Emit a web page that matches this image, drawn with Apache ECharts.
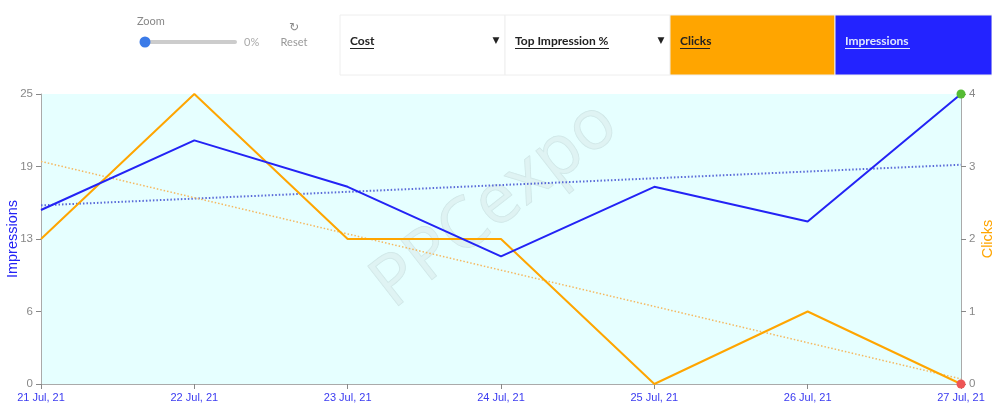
<!DOCTYPE html>
<html><head><meta charset="utf-8">
<script src="https://cdn.jsdelivr.net/npm/echarts@6/dist/echarts.min.js"></script>
<style>html,body{margin:0;padding:0;background:#fff}#c{width:992px;height:417px}</style>
</head><body><div id="c"></div>
<script>
const categories = ['21 Jul, 21','22 Jul, 21','23 Jul, 21','24 Jul, 21','25 Jul, 21','26 Jul, 21','27 Jul, 21'];
const impressions = [15, 21, 17, 11, 17, 14, 25];
const clicks = [2, 4, 2, 2, 0, 1, 0];
const impressionsTrend = [15.4, 18.9];   // trend line at first and last date
const clicksTrend = [3.07, 0.07];
const leftTicks = [0, 6, 13, 19, 25];
const rightTicks = [0, 1, 2, 3, 4];

const BLUE = '#2323f5', ORANGE = '#ffa500';
const chart = echarts.init(document.getElementById('c'), null, {renderer:'canvas'});
const last = categories.length - 1;

function endPoint(arr, color){
  return arr.map((v,i)=> i===last ? {value:v, symbol:'circle', symbolSize:9, itemStyle:{color:color}} : {value:v, symbol:'none'});
}

const boxes = [
  {x:340, w:165, label:'Cost', bg:'#fff', color:'#222', arrow:true},
  {x:505, w:165, label:'Top Impression %', bg:'#fff', color:'#222', arrow:true},
  {x:670, w:165, label:'Clicks', bg:'#ffa500', color:'#222', arrow:false},
  {x:835, w:157, label:'Impressions', bg:'#2323ff', color:'#e0e8ff', arrow:false}
];
const graphics = [];
boxes.forEach(b=>{
  graphics.push({type:'rect', shape:{x:b.x, y:15, width:b.w, height:60}, style:{fill:b.bg, stroke:'#eeeeee', lineWidth:1}, silent:true});
  graphics.push({type:'text', x:b.x+10, y:41, style:{text:b.label, fill:b.color, font:'bold 12px Lato', textVerticalAlign:'middle'}});
  if (b.arrow) graphics.push({type:'text', x:b.x+156, y:41, style:{text:'▼', fill:'#222', font:'9px DejaVu Sans', textAlign:'center', textVerticalAlign:'middle'}});
});
// underlines
const ul = [[350,374],[515,609],[680,710],[845,910]];
ul.forEach((u,i)=>graphics.push({type:'line', shape:{x1:u[0], y1:48.5, x2:u[1], y2:48.5}, style:{stroke:i===3?'#e0e8ff':'#222', lineWidth:1}}));
// zoom control
graphics.push({type:'text', x:137, y:21, style:{text:'Zoom', fill:'#888', font:'11px Lato', textVerticalAlign:'middle'}});
graphics.push({type:'rect', shape:{x:148, y:40, width:89, height:4, r:2}, style:{fill:'#cccccc'}});
graphics.push({type:'circle', shape:{cx:145, cy:42, r:5.5}, style:{fill:'#3b7be8'}});
graphics.push({type:'text', x:244, y:42, style:{text:'0%', fill:'#aaa', font:'11px Lato', textVerticalAlign:'middle'}});
graphics.push({type:'text', x:294, y:28, style:{text:'↻', fill:'#888', font:'12px DejaVu Sans', textAlign:'center', textVerticalAlign:'middle'}});
graphics.push({type:'text', x:294, y:42, style:{text:'Reset', fill:'#999', font:'11px Lato', textAlign:'center', textVerticalAlign:'middle'}});
// watermark
graphics.push({type:'text', x:495, y:205, rotation:Math.PI*38/180, z:0, style:{text:'PPCexpo', fill:'rgba(220,238,238,0.7)', stroke:'rgba(185,210,210,0.55)', lineWidth:1, font:'70px "Open Sans"', textAlign:'center', textVerticalAlign:'middle'}, silent:true});

chart.setOption({
  animation:false,
  grid:{left:41, right:31, top:94, bottom:33, show:true, backgroundColor:'#e6ffff', borderWidth:0, containLabel:false, outerBoundsMode:'none'},
  graphic: graphics,
  xAxis:{type:'category', data:categories, boundaryGap:false,
    axisLine:{lineStyle:{color:'#aaaaaa'}}, axisTick:{show:true, alignWithLabel:true, lineStyle:{color:'#888'}},
    axisLabel:{color:'#3a3af0', fontSize:11, fontFamily:'Liberation Sans', margin:8}},
  yAxis:[
    {type:'value', min:0, max:25, interval:6.25, position:'left',
      name:'Impressions', nameLocation:'middle', nameGap:21, nameMoveOverlap:false, nameTextStyle:{color:'#2323f5', fontSize:14.5, fontFamily:'Liberation Sans'},
      axisLine:{show:true, lineStyle:{color:'#aaaaaa'}}, axisTick:{show:true, lineStyle:{color:'#888'}}, splitLine:{show:false},
      axisLabel:{color:'#888', fontSize:11.5, fontFamily:'Liberation Sans', formatter:v=>String(leftTicks[Math.round(v/6.25)])}},
    {type:'value', min:0, max:4, interval:1, position:'right',
      name:'Clicks', nameLocation:'middle', nameGap:19, nameMoveOverlap:false, nameTextStyle:{color:'#ffa500', fontSize:14.5, fontFamily:'Liberation Sans'},
      axisLine:{show:true, lineStyle:{color:'#aaaaaa'}}, axisTick:{show:true, lineStyle:{color:'#888'}}, splitLine:{show:false},
      axisLabel:{color:'#888', fontSize:11.5, fontFamily:'Liberation Sans', formatter:v=>String(rightTicks[v])}}
  ],
  series:[
    {type:'line', yAxisIndex:0, data:[[categories[0], impressionsTrend[0]],[categories[last], impressionsTrend[1]]], symbol:'none',
      lineStyle:{color:'#5a6ad8', width:2, type:[1.5,2]}, z:1},
    {type:'line', yAxisIndex:1, data:[[categories[0], clicksTrend[0]],[categories[last], clicksTrend[1]]], symbol:'none',
      lineStyle:{color:'#f5b860', width:1.5, type:[1.5,2]}, z:1},
    {type:'line', yAxisIndex:1, data:endPoint(clicks,'#ee5555'), lineStyle:{color:ORANGE, width:2}, itemStyle:{color:'#ee5555'}, z:3},
    {type:'line', yAxisIndex:0, data:endPoint(impressions,'#55bb33'), lineStyle:{color:BLUE, width:2}, itemStyle:{color:'#55bb33'}, z:4}
  ]
});
</script></body></html>
